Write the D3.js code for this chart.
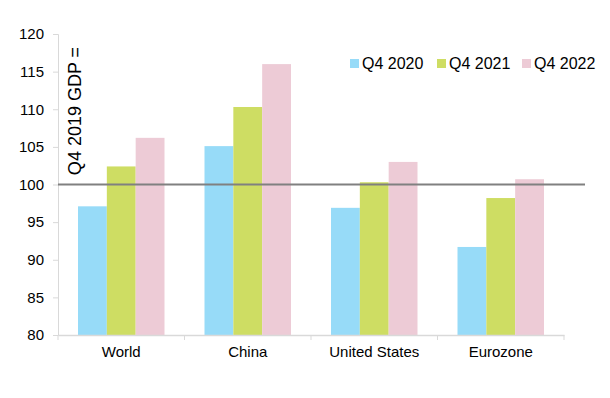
<!DOCTYPE html>
<html>
<head>
<meta charset="utf-8">
<script src="https://cdn.jsdelivr.net/npm/d3@7"></script>
<style>
  body { margin: 0; background: #fff; }
  text { font-family: Arial, "Liberation Sans", sans-serif; fill: #000; }
</style>
</head>
<body>
<div id="chart"></div>
<script>
const width = 610, height = 398
const margin = {top: 34, right: 46, bottom: 63, left: 58}

// data
const regions = ["World", "China", "United States", "Eurozone"]
const series = ["Q4 2020", "Q4 2021", "Q4 2022"]
const q42020 = [97.1, 105.1, 96.9, 91.7]
const q42021 = [102.4, 110.3, 100.3, 98.2]
const q42022 = [106.2, 116.0, 103.0, 100.7]
const yTicks = [80, 85, 90, 95, 100, 105, 110, 115, 120]
const colors = ["#97dbf8", "#cedd63", "#edcbd6"]

const values = [q42020, q42021, q42022]

const svg = d3.select("#chart").append("svg")
    .attr("width", width)
    .attr("height", height)

const plotW = width - margin.left - margin.right
const plotH = height - margin.top - margin.bottom

const xScale = d3.scaleBand().domain(regions).range([0, plotW]).paddingInner(0).paddingOuter(0)
const inner = d3.scaleBand().domain(series).range([20, xScale.bandwidth() - 20])
const yScale = d3.scaleLinear().domain([80, 120]).range([plotH, 0])

const g = svg.append("g")
    .attr("transform", "translate(" + margin.left + "," + margin.top + ")")

// bars
series.forEach((s, i) => {
    g.selectAll(".bar" + i)
        .data(regions)
        .enter().append("rect")
        .attr("x", d => xScale(d) + inner(s))
        .attr("width", inner.bandwidth())
        .attr("y", (d, j) => yScale(values[i][j]))
        .attr("height", (d, j) => yScale(80) - yScale(values[i][j]))
        .attr("fill", colors[i])
})

// y axis
const yAxis = g.append("g")
    .call(d3.axisLeft(yScale).tickValues(yTicks).tickSize(5).tickPadding(9))
yAxis.select(".domain").attr("stroke", "#d9d9d9")
yAxis.selectAll(".tick line").attr("stroke", "#d9d9d9")
yAxis.selectAll(".tick text").style("font-size", "15px").attr("fill", "#000")

// x axis
const xAxis = g.append("g")
    .attr("transform", "translate(0," + plotH + ")")
    .call(d3.axisBottom(xScale).tickSize(0).tickSizeOuter(0).tickPadding(11))
xAxis.select(".domain").attr("stroke", "#d9d9d9").attr("stroke-width", 1.5)
xAxis.selectAll(".tick text").style("font-size", "15px").attr("fill", "#000")
g.selectAll(".xsep")
    .data(d3.range(regions.length + 1))
    .enter().append("line")
    .attr("x1", i => i * xScale.step())
    .attr("x2", i => i * xScale.step())
    .attr("y1", plotH)
    .attr("y2", plotH + 5)
    .attr("stroke", "#d9d9d9")

// 100 reference line
g.append("line")
    .attr("x1", 0)
    .attr("x2", plotW + 21)
    .attr("y1", yScale(100))
    .attr("y2", yScale(100))
    .attr("stroke", "#808080")
    .attr("stroke-width", 2)

// rotated label
svg.append("text")
    .attr("transform", "translate(81,111) rotate(-90)")
    .attr("text-anchor", "middle")
    .style("font-size", "18px")
    .text("Q4 2019 GDP =")

// legend
const legend = svg.append("g").attr("transform", "translate(350,63)")
const legendX = [0, 87, 172]
series.forEach((s, i) => {
    const item = legend.append("g").attr("transform", "translate(" + legendX[i] + ",0)")
    item.append("rect")
        .attr("x", 0).attr("y", -4)
        .attr("width", 9).attr("height", 9)
        .attr("fill", colors[i])
    item.append("text")
        .attr("x", 12).attr("y", 6)
        .style("font-size", "16px")
        .text(s)
})
</script>
</body>
</html>
